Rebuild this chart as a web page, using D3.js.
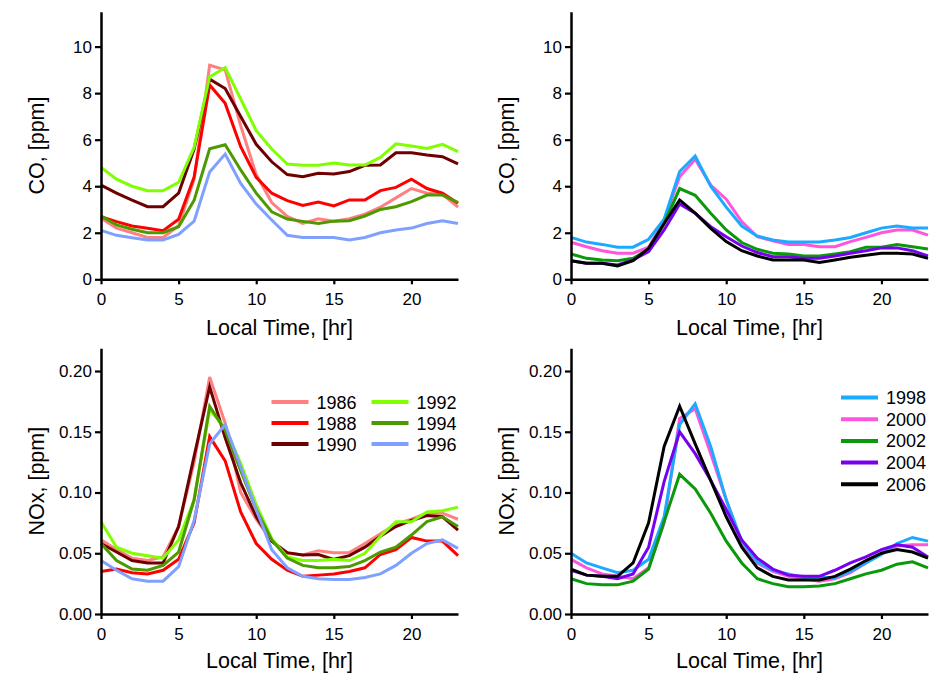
<!DOCTYPE html>
<html>
<head>
<meta charset="utf-8">
<script src="https://cdn.jsdelivr.net/npm/d3@7"></script>
<style>
  body { margin: 0; background: #fff; }
  svg { display: block; font-family: "Liberation Sans", Arial, sans-serif; }
</style>
</head>
<body>
<svg id="chart" width="930" height="673"></svg>
<script>
// ---------- data ----------
const hours = d3.range(0, 24);

const earlyYears = ["1986", "1988", "1990", "1992", "1994", "1996"];
const lateYears = ["1998", "2000", "2002", "2004", "2006"];

const co1986 = [2.62,2.2,2.0,1.8,1.8,2.3,4.3,9.2,9.0,6.6,4.5,3.3,2.7,2.4,2.6,2.5,2.6,2.8,3.1,3.5,3.9,3.7,3.65,3.1];
const co1988 = [2.69,2.48,2.29,2.19,2.09,2.58,4.4,8.35,7.56,5.7,4.38,3.7,3.38,3.17,3.32,3.15,3.41,3.41,3.81,3.95,4.3,3.9,3.7,3.27];
const co1990 = [4.05,3.7,3.4,3.12,3.12,3.7,5.6,8.6,8.2,7.0,5.8,5.05,4.5,4.41,4.56,4.53,4.63,4.9,4.91,5.44,5.44,5.34,5.27,4.96];
const co1992 = [4.81,4.3,4.0,3.81,3.81,4.17,5.67,8.7,9.1,7.75,6.39,5.6,4.95,4.9,4.9,5.0,4.91,4.91,5.24,5.82,5.73,5.62,5.8,5.49];
const co1994 = [2.72,2.34,2.15,2.0,2.0,2.26,3.4,5.61,5.78,4.7,3.7,2.9,2.59,2.49,2.4,2.5,2.52,2.72,3.0,3.12,3.34,3.62,3.62,3.3];
const co1996 = [2.1,1.89,1.79,1.69,1.69,1.93,2.5,4.61,5.38,4.12,3.23,2.55,1.89,1.8,1.8,1.8,1.69,1.8,2.0,2.12,2.2,2.4,2.52,2.4];

const co1998 = [1.8,1.6,1.5,1.38,1.38,1.72,2.58,4.63,5.3,4.0,3.1,2.29,1.86,1.69,1.6,1.6,1.6,1.69,1.8,2.0,2.2,2.29,2.2,2.2];
const co2000 = [1.59,1.4,1.23,1.12,1.12,1.38,2.55,4.41,5.16,4.05,3.44,2.48,1.83,1.66,1.5,1.5,1.4,1.4,1.62,1.8,2.0,2.12,2.12,1.9];
const co2002 = [1.09,0.9,0.83,0.8,0.9,1.29,2.4,3.9,3.61,2.84,2.12,1.58,1.29,1.12,1.09,1.0,1.0,1.09,1.19,1.38,1.38,1.49,1.4,1.3];
const co2004 = [0.8,0.69,0.69,0.62,0.83,1.19,2.12,3.24,2.84,2.26,1.83,1.43,1.15,0.97,0.97,0.9,0.9,1.0,1.12,1.23,1.35,1.35,1.23,1.0];
const co2006 = [0.8,0.69,0.69,0.57,0.8,1.33,2.4,3.41,2.84,2.19,1.62,1.23,1.0,0.83,0.83,0.83,0.72,0.83,0.95,1.03,1.12,1.12,1.09,0.9];

const nox1986 = [0.061,0.053,0.046,0.044,0.047,0.072,0.125,0.195,0.157,0.100,0.078,0.060,0.050,0.0486,0.052,0.0505,0.0505,0.058,0.066,0.074,0.078,0.083,0.083,0.078];
const nox1988 = [0.035,0.037,0.034,0.033,0.036,0.045,0.075,0.146,0.126,0.084,0.058,0.045,0.036,0.031,0.032,0.033,0.035,0.038,0.049,0.053,0.063,0.060,0.060,0.048];
const nox1990 = [0.058,0.051,0.044,0.042,0.042,0.072,0.130,0.187,0.145,0.108,0.080,0.060,0.0505,0.0486,0.049,0.045,0.048,0.055,0.064,0.072,0.077,0.081,0.080,0.069];
const nox1992 = [0.076,0.055,0.050,0.048,0.046,0.061,0.094,0.168,0.153,0.124,0.090,0.062,0.047,0.044,0.044,0.045,0.044,0.050,0.064,0.076,0.076,0.084,0.085,0.088];
const nox1994 = [0.058,0.044,0.037,0.036,0.040,0.051,0.094,0.171,0.151,0.118,0.086,0.061,0.046,0.040,0.038,0.038,0.039,0.044,0.051,0.055,0.065,0.076,0.080,0.072];
const nox1996 = [0.044,0.036,0.029,0.027,0.027,0.039,0.077,0.140,0.156,0.121,0.086,0.053,0.038,0.031,0.029,0.0285,0.0285,0.030,0.033,0.040,0.050,0.058,0.061,0.054];

const nox1998 = [0.050,0.042,0.038,0.034,0.036,0.045,0.080,0.156,0.173,0.138,0.094,0.060,0.043,0.036,0.033,0.030,0.030,0.030,0.035,0.042,0.049,0.058,0.063,0.060];
const nox2000 = [0.045,0.038,0.033,0.031,0.029,0.038,0.075,0.161,0.169,0.132,0.094,0.058,0.042,0.035,0.031,0.029,0.027,0.029,0.034,0.042,0.050,0.056,0.057,0.057];
const nox2002 = [0.029,0.025,0.024,0.024,0.027,0.037,0.076,0.115,0.103,0.083,0.060,0.042,0.029,0.025,0.0225,0.0225,0.023,0.025,0.029,0.033,0.036,0.041,0.043,0.038];
const nox2004 = [0.036,0.032,0.031,0.029,0.033,0.055,0.109,0.150,0.132,0.110,0.086,0.061,0.046,0.037,0.032,0.031,0.031,0.036,0.042,0.047,0.053,0.057,0.055,0.047];
const nox2006 = [0.037,0.032,0.031,0.031,0.042,0.075,0.138,0.171,0.140,0.110,0.080,0.055,0.038,0.031,0.028,0.028,0.028,0.031,0.037,0.044,0.050,0.053,0.051,0.046];

const xTicks = [0, 5, 10, 15, 20];
const coTicks = [0, 2, 4, 6, 8, 10];
const noxTicks = [0, 0.05, 0.10, 0.15, 0.20];

const xLabel = "Local Time, [hr]";
const coLabel = "CO, [ppm]";
const noxLabel = "NOx, [ppm]";

const colors = {
  "1986": "#ff8080", "1988": "#ff0000", "1990": "#6e0000",
  "1992": "#80ff00", "1994": "#4d9900", "1996": "#80a0ff",
  "1998": "#1aaaff", "2000": "#ff55dd", "2002": "#0a990a",
  "2004": "#7700ee", "2006": "#000000"
};

const coEarly = {"1986": co1986, "1988": co1988, "1990": co1990, "1992": co1992, "1994": co1994, "1996": co1996};
const coLate = {"1998": co1998, "2000": co2000, "2002": co2002, "2004": co2004, "2006": co2006};
const noxEarly = {"1986": nox1986, "1988": nox1988, "1990": nox1990, "1992": nox1992, "1994": nox1994, "1996": nox1996};
const noxLate = {"1998": nox1998, "2000": nox2000, "2002": nox2002, "2004": nox2004, "2006": nox2006};

// ---------- drawing ----------
const svg = d3.select("#chart");

function panel(opts) {
  const x = d3.scaleLinear().domain([0, 23]).range([opts.x0, opts.x0 + 357]);
  const y = d3.scaleLinear().domain([0, opts.ymax]).range([opts.yBottom, opts.yTop]);
  const g = svg.append("g");

  const line = d3.line().x((d, i) => x(hours[i])).y(d => y(d));
  opts.order.forEach(k => {
    g.append("path")
      .attr("d", line(opts.series[k]))
      .attr("fill", "none")
      .attr("stroke", colors[k])
      .attr("stroke-width", 3)
      .attr("stroke-linejoin", "miter");
  });

  const xa = g.append("g").attr("transform", `translate(0,${opts.yBottom})`)
    .call(d3.axisBottom(x).tickValues(xTicks).tickSize(5).tickSizeOuter(0).tickPadding(9).tickFormat(d3.format("d")));
  const ya = g.append("g").attr("transform", `translate(${opts.x0},0)`)
    .call(d3.axisLeft(y).tickValues(opts.ticks).tickSize(6).tickSizeOuter(0).tickPadding(3).tickFormat(opts.fmt));
  [xa, ya].forEach(a => {
    a.select(".domain").attr("stroke", "#000").attr("stroke-width", 2.5);
    a.selectAll(".tick line").attr("stroke", "#000").attr("stroke-width", 2.2);
    a.selectAll(".tick text").attr("fill", "#000").style("font-size", "17px")
      .style("font-family", '"Liberation Sans", Arial, sans-serif');
  });

  g.append("text")
    .attr("x", opts.x0 + 178.5).attr("y", opts.yBottom + opts.xlabDy)
    .attr("text-anchor", "middle").style("font-size", "21.5px").attr("fill", "#000")
    .text(xLabel);
  g.append("text")
    .attr("transform", `translate(${opts.x0 - 57},${(opts.yBottom + opts.yTop) / 2}) rotate(-90)`)
    .attr("text-anchor", "middle").style("font-size", "21.5px").attr("fill", "#000")
    .text(opts.ylabel);

  if (opts.legend) {
    const L = opts.legend;
    L.items.forEach((k, i) => {
      const col = Math.floor(i / L.rows), row = i % L.rows;
      const lx = L.x + col * L.colW, ly = L.y + row * L.rowH;
      g.append("line").attr("x1", lx).attr("x2", lx + 37).attr("y1", ly).attr("y2", ly)
        .attr("stroke", colors[k]).attr("stroke-width", 4);
      g.append("text").attr("x", lx + 45).attr("y", ly + 6.5)
        .style("font-size", "18px").attr("fill", "#000").text(k);
    });
  }
}

panel({x0: 101, yBottom: 279.3, yTop: 11.7, ymax: 11.5, ticks: coTicks, fmt: d3.format("d"),
  series: coEarly, order: earlyYears, ylabel: coLabel, xlabDy: 56});
panel({x0: 571, yBottom: 279.3, yTop: 11.7, ymax: 11.5, ticks: coTicks, fmt: d3.format("d"),
  series: coLate, order: ["2000", "1998", "2002", "2004", "2006"], ylabel: coLabel, xlabDy: 56});
panel({x0: 101, yBottom: 614, yTop: 348.3, ymax: 0.2187, ticks: noxTicks, fmt: d3.format(".2f"),
  series: noxEarly, order: earlyYears, ylabel: noxLabel, xlabDy: 53.5,
  legend: {items: earlyYears, rows: 3, x: 271.5, y: 402, colW: 100, rowH: 21}});
panel({x0: 571, yBottom: 614, yTop: 348.3, ymax: 0.2187, ticks: noxTicks, fmt: d3.format(".2f"),
  series: noxLate, order: ["2000", "1998", "2002", "2004", "2006"], ylabel: noxLabel, xlabDy: 53.5,
  legend: {items: lateYears, rows: 5, x: 841, y: 397.5, colW: 0, rowH: 21.7}});
</script>
</body>
</html>
